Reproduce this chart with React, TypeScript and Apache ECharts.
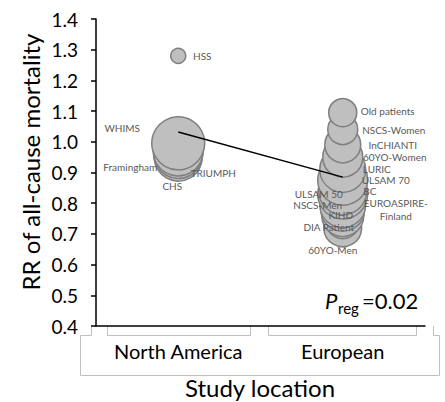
import React, { useEffect, useRef } from "react";
import * as echarts from "echarts";

// Study locations on the category axis
const categories = ["North America", "European"];

// One entry per study: name, location index, relative risk, relative study weight
const studyNames = [
  "HSS", "WHIMS", "Framingham", "TRIUMPH", "CHS",
  "Old patients", "NSCS-Women", "InCHIANTI", "60YO-Women", "LURIC",
  "ULSAM 70", "BC", "EUROASPIRE-\nFinland", "ULSAM 50", "NSCS-Men",
  "KIHD", "DIA Patient", "60YO-Men",
];
const studyRegion = [0, 0, 0, 0, 0, 1, 1, 1, 1, 1, 1, 1, 1, 1, 1, 1, 1, 1];
const studyRR = [
  1.28, 0.995, 0.97, 0.96, 0.95,
  1.095, 1.04, 0.99, 0.95, 0.91,
  0.875, 0.84, 0.78, 0.83, 0.795,
  0.76, 0.74, 0.72,
];
const studyWeight = [
  8, 100, 89, 85, 82,
  28, 32, 46, 57, 75,
  89, 82, 69, 89, 75,
  63, 41, 51,
];

// Meta-regression fit at each location
const regressionRR = [1.032, 0.885];

// Y axis range
const yMin = 0.4;
const yMax = 1.4;
const yStep = 0.1;

const FONT = "Lato, Carlito, Calibri, sans-serif";

// Label centre relative to the bubble centre (px)
const labelOffset: Record<string, [number, number]> = {
  HSS: [24, 0],
  WHIMS: [-56, -15],
  Framingham: [-48, 16],
  TRIUMPH: [35, 19],
  CHS: [-6, 29],
  "Old patients": [45, -2],
  "NSCS-Women": [51, 0],
  InCHIANTI: [50, 0],
  "60YO-Women": [52, 0],
  LURIC: [34, 0],
  "ULSAM 70": [43, 0],
  BC: [27, 0],
  "EUROASPIRE-\nFinland": [53, 0],
  "ULSAM 50": [-24, 0],
  "NSCS-Men": [-25, 0],
  KIHD: [-2, 0],
  "DIA Patient": [-14, 5],
  "60YO-Men": [-10, 22],
};

const MAX_DIAMETER = 53;

export default function App() {
  const ref = useRef<HTMLDivElement>(null);

  useEffect(() => {
    if (!ref.current) return;
    const chart = echarts.init(ref.current, undefined, { renderer: "svg" });

    // draw lower bubbles first so higher ones sit on top
    const order = studyNames.map((_, i) => i).sort((a, b) => studyRR[a] - studyRR[b]);
    const bubbles = order.map((i) => ({
      name: studyNames[i],
      value: [studyRegion[i], studyRR[i]],
      symbolSize: MAX_DIAMETER * Math.sqrt(studyWeight[i] / 100),
      label: { offset: labelOffset[studyNames[i]] || [0, 0] },
    }));

    const grey = "#bfbfbf";
    const boxLines = [
      [[91.5, 326], [91.5, 335.5], [80.5, 335.5], [80.5, 375.5], [439.5, 375.5], [439.5, 335.5], [433.5, 335.5], [433.5, 326]],
      [[107.5, 326], [107.5, 335.5], [250.5, 335.5], [250.5, 326]],
      [[268.5, 326], [268.5, 335.5], [416.5, 335.5], [416.5, 326]],
    ];

    chart.setOption({
      animation: false,
      backgroundColor: "#ffffff",
      grid: { left: 96, right: 20, top: 19, bottom: 76 },
      xAxis: {
        type: "category",
        data: categories,
        boundaryGap: true,
        axisLine: { lineStyle: { color: "#000", width: 1.5 } },
        axisTick: { alignWithLabel: true, length: 6, lineStyle: { color: "#000", width: 1.5 } },
        axisLabel: { interval: 0, hideOverlap: false, fontFamily: FONT, fontSize: 20, color: "#000", margin: 15 },
        splitLine: { show: false },
      },
      yAxis: {
        type: "value",
        min: yMin,
        max: yMax,
        interval: yStep,
        axisLine: { show: true, lineStyle: { color: "#000", width: 1.5 } },
        axisTick: { show: true, length: 5, lineStyle: { color: "#000", width: 1.5 } },
        axisLabel: {
          fontFamily: FONT,
          fontSize: 19,
          color: "#000",
          margin: 18,
          formatter: (v: number) => v.toFixed(1),
        },
        splitLine: { show: false },
      },
      series: [
        {
          type: "scatter",
          data: bubbles,
          itemStyle: { color: "#bfbfbf", borderColor: "#7f7f7f", borderWidth: 1.5, opacity: 1 },
          label: {
            show: true,
            position: "inside",
            formatter: "{b}",
            fontFamily: FONT,
            fontSize: 10,
            color: "#595959",
            lineHeight: 13,
            align: "center",
          },
          emphasis: { disabled: true },
          z: 2,
        },
        {
          type: "line",
          data: regressionRR.map((v, i) => [i, v]),
          symbol: "none",
          lineStyle: { color: "#000", width: 1.5 },
          z: 4,
        },
      ],
      graphic: [
        ...boxLines.map((pts) => ({
          type: "polyline",
          shape: { points: pts },
          style: { stroke: grey, lineWidth: 1, fill: null },
          silent: true,
        })),
        {
          type: "text",
          x: 30,
          y: 162,
          rotation: Math.PI / 2,
          style: {
            text: "RR of all-cause mortality",
            fontFamily: FONT,
            fontSize: 24,
            fill: "#000",
            align: "center",
            verticalAlign: "middle",
          },
        },
        {
          type: "text",
          x: 260,
          y: 387,
          style: {
            text: "Study location",
            fontFamily: FONT,
            fontSize: 24,
            fill: "#000",
            align: "center",
            verticalAlign: "middle",
          },
        },
        {
          type: "text",
          x: 325,
          y: 300,
          style: { text: "P", fontFamily: FONT, fontSize: 22, fontStyle: "italic", fill: "#000", verticalAlign: "middle" },
        },
        {
          type: "text",
          x: 338,
          y: 308,
          style: { text: "reg", fontFamily: FONT, fontSize: 15, fill: "#000", verticalAlign: "middle" },
        },
        {
          type: "text",
          x: 362,
          y: 300,
          style: { text: "=0.02", fontFamily: FONT, fontSize: 22, fill: "#000", verticalAlign: "middle" },
        },
      ],
    });

    return () => chart.dispose();
  }, []);

  return (
    <div
      ref={ref}
      style={{ position: "fixed", left: 0, top: 0, width: 445, height: 402, background: "#fff" }}
    />
  );
}
